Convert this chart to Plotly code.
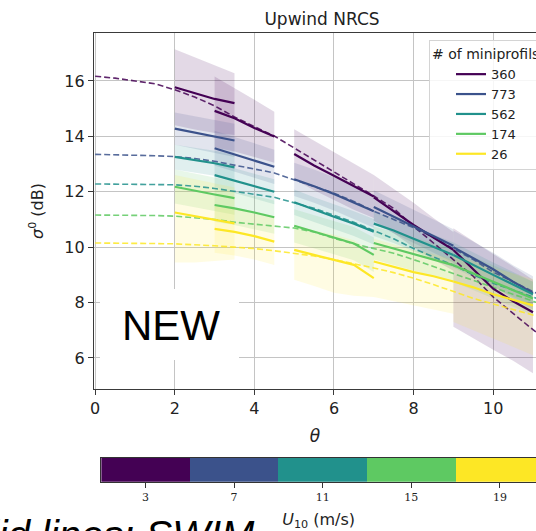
import plotly.graph_objects as go

# ---------------- data ----------------
wind_speeds = [3, 7, 11, 15, 19]
n_miniprofils = [360, 773, 562, 174, 26]
colors = ["#440154", "#3b528b", "#21918c", "#5ec962", "#fde725"]

# model (dashed) curves
theta_model = [0, 0.5, 1, 1.5, 2, 2.5, 3, 3.5, 4, 4.5, 5, 5.5, 6, 6.5, 7, 7.5, 8, 8.5, 9, 9.5, 10, 10.5, 11, 11.5]
model_u3 = [16.17, 16.1, 16.0, 15.9, 15.68, 15.42, 15.1, 14.7, 14.35, 14.01, 13.58, 13.15, 12.72, 12.3, 11.85, 11.4, 10.75, 10.15, 9.55, 8.95, 8.2, 7.6, 7.02, 6.45]
model_u7 = [13.35, 13.34, 13.32, 13.3, 13.27, 13.2, 13.1, 12.96, 12.82, 12.68, 12.43, 12.2, 11.95, 11.65, 11.3, 11.0, 10.7, 10.35, 9.95, 9.55, 9.1, 8.75, 8.4, 8.05]
model_u11 = [12.28, 12.28, 12.27, 12.26, 12.25, 12.2, 12.12, 12.02, 11.92, 11.8, 11.6, 11.4, 11.15, 10.9, 10.6, 10.3, 9.95, 9.65, 9.35, 9.0, 8.7, 8.45, 8.2, 7.95]
model_u15 = [11.16, 11.16, 11.15, 11.14, 11.12, 11.07, 11.0, 10.9, 10.83, 10.75, 10.69, 10.55, 10.32, 10.12, 9.95, 9.78, 9.55, 9.3, 9.05, 8.8, 8.55, 8.3, 8.05, 7.8]
model_u19 = [10.15, 10.15, 10.14, 10.13, 10.12, 10.09, 10.05, 10.0, 9.95, 9.87, 9.78, 9.68, 9.55, 9.41, 9.25, 9.08, 8.88, 8.65, 8.4, 8.15, 7.95, 7.75, 7.55, 7.35]

# observed (solid) curves, grouped in incidence-angle bins
obs_theta = [2.0, 2.5, 3.0, 3.5, 3.0, 3.5, 4.0, 4.5, 5.0, 5.5, 6.0, 6.5, 7.0,
             7.0, 7.5, 8.0, 8.5, 9.0, 9.0, 9.5, 10.0, 10.5, 11.0]
obs_bin = [0, 0, 0, 0, 1, 1, 1, 1, 2, 2, 2, 2, 2, 3, 3, 3, 3, 3, 4, 4, 4, 4, 4]

mean_u3 = [15.77, 15.55, 15.35, 15.2, 14.92, 14.65, 14.3, 13.99, 13.36, 12.95, 12.58, 12.2, 11.83,
           11.8, 11.3, 10.8, 10.35, 9.9, 9.9, 9.2, 8.5, 8.05, 7.65]
hi_u3 = [17.14, 16.85, 16.57, 16.28, 16.16, 15.75, 15.32, 14.89, 14.26, 13.85, 13.45, 13.02, 12.6,
         12.6, 12.1, 11.6, 11.05, 10.55, 10.68, 10.2, 9.75, 9.3, 8.82]
lo_u3 = [14.4, 14.25, 14.12, 14.05, 13.6, 13.45, 13.25, 13.05, 12.45, 12.05, 11.7, 11.35, 11.05,
         10.95, 10.5, 10.0, 9.55, 9.15, 7.13, 6.7, 6.3, 5.9, 5.45]

mean_u7 = [14.28, 14.13, 13.98, 13.85, 13.57, 13.35, 13.12, 12.9, 12.45, 12.2, 11.92, 11.62, 11.3,
           11.45, 11.1, 10.75, 10.4, 10.05, 10.0, 9.6, 9.2, 8.75, 8.35]
hi_u7 = [14.86, 14.72, 14.58, 14.45, 14.2, 13.98, 13.75, 13.52, 13.05, 12.8, 12.52, 12.22, 11.9,
         12.05, 11.7, 11.35, 11.0, 10.65, 10.6, 10.2, 9.8, 9.35, 8.95]
lo_u7 = [13.7, 13.55, 13.4, 13.25, 12.95, 12.72, 12.5, 12.28, 11.85, 11.6, 11.32, 11.02, 10.7,
         10.85, 10.5, 10.15, 9.8, 9.45, 9.4, 9.0, 8.6, 8.15, 7.75]

mean_u11 = [13.26, 13.15, 13.03, 12.88, 12.6, 12.4, 12.2, 12.0, 11.62, 11.35, 11.1, 10.85, 10.56,
            10.85, 10.6, 10.3, 10.0, 9.72, 9.72, 9.35, 9.0, 8.65, 8.3]
hi_u11 = [13.7, 13.6, 13.48, 13.33, 13.05, 12.85, 12.65, 12.45, 12.08, 11.8, 11.55, 11.3, 11.02,
          11.3, 11.05, 10.75, 10.45, 10.17, 10.17, 9.8, 9.45, 9.1, 8.75]
lo_u11 = [12.8, 12.7, 12.58, 12.43, 12.15, 11.95, 11.75, 11.55, 11.16, 10.9, 10.65, 10.4, 10.1,
          10.4, 10.15, 9.85, 9.55, 9.27, 9.27, 8.9, 8.55, 8.2, 7.85]

mean_u15 = [12.18, 12.03, 11.9, 11.77, 11.52, 11.4, 11.25, 11.08, 10.77, 10.55, 10.35, 10.13, 9.72,
            10.15, 9.95, 9.75, 9.55, 9.35, 9.35, 9.05, 8.75, 8.45, 8.15]
hi_u15 = [12.8, 12.65, 12.5, 12.37, 12.12, 12.0, 11.85, 11.68, 11.37, 11.15, 10.95, 10.73, 10.35,
          10.75, 10.55, 10.35, 10.15, 9.95, 9.95, 9.65, 9.35, 9.05, 8.75]
lo_u15 = [11.58, 11.43, 11.3, 11.17, 10.92, 10.8, 10.65, 10.48, 10.17, 9.95, 9.75, 9.53, 9.1,
          9.55, 9.35, 9.15, 8.95, 8.75, 8.75, 8.45, 8.15, 7.85, 7.55]

mean_u19 = [11.25, 11.12, 11.0, 10.86, 10.66, 10.55, 10.4, 10.2, 9.9, 9.72, 9.55, 9.36, 8.88,
            9.48, 9.3, 9.1, 8.95, 8.76, 8.76, 8.55, 8.3, 8.1, 7.9]
hi_u19 = [12.6, 12.45, 12.3, 12.15, 11.5, 11.4, 11.25, 11.05, 10.8, 10.6, 10.45, 10.25, 9.8,
          10.3, 10.1, 9.9, 9.75, 9.55, 9.7, 9.5, 9.25, 9.05, 8.85]
lo_u19 = [9.45, 9.45, 9.5, 9.55, 9.8, 9.7, 9.55, 9.36, 8.82, 8.6, 8.35, 8.25, 8.2,
          8.2, 8.05, 7.9, 7.75, 7.6, 7.3, 7.0, 6.7, 6.4, 6.1]

x_ticks = [0, 2, 4, 6, 8, 10]
y_ticks = [6, 8, 10, 12, 14, 16]
cbar_ticks = [3, 7, 11, 15, 19]

models = [model_u3, model_u7, model_u11, model_u15, model_u19]
means = [mean_u3, mean_u7, mean_u11, mean_u15, mean_u19]
his = [hi_u3, hi_u7, hi_u11, hi_u15, hi_u19]
los = [lo_u3, lo_u7, lo_u11, lo_u15, lo_u19]
band_alpha = [0.15, 0.15, 0.14, 0.14, 0.13]

# ---------------- layout helpers ----------------
W, H = 536, 531
FONT = "DejaVu Sans"
TXT = "#222222"
SPINE = "#3a3a3a"


def pxx(px):
    return px / W


def pxy(py):
    return 1 - py / H


def rgba(hexc, a):
    h = hexc.lstrip("#")
    return "rgba(%d,%d,%d,%.3f)" % (int(h[0:2], 16), int(h[2:4], 16), int(h[4:6], 16), a)


fig = go.Figure()
bins = sorted(set(obs_bin))

# bands
for k in range(5):
    for b in bins:
        idx = [i for i, v in enumerate(obs_bin) if v == b]
        xs = [obs_theta[i] for i in idx]
        up = [his[k][i] for i in idx]
        lo = [los[k][i] for i in idx]
        fig.add_trace(go.Scatter(
            x=xs + xs[::-1], y=up + lo[::-1], fill="toself",
            fillcolor=rgba(colors[k], band_alpha[k]), line=dict(width=0),
            mode="lines", showlegend=False, hoverinfo="skip"))

# dashed model curves
for k in range(5):
    fig.add_trace(go.Scatter(
        x=theta_model, y=models[k], mode="lines",
        line=dict(color=rgba(colors[k], 0.85), width=1.6, dash="6px,3px"),
        showlegend=False, hoverinfo="skip"))

# solid observation curves (segments separated by gaps)
for k in range(5):
    xs, ys = [], []
    prev = None
    for i, b in enumerate(obs_bin):
        if prev is not None and b != prev:
            xs.append(None)
            ys.append(None)
        xs.append(obs_theta[i])
        ys.append(means[k][i])
        prev = b
    fig.add_trace(go.Scatter(
        x=xs, y=ys, mode="lines", connectgaps=False,
        line=dict(color=colors[k], width=2.2),
        name=str(n_miniprofils[k]), showlegend=True))

# discrete colour bar drawn as a heatmap on its own axes
cs = []
for k, c in enumerate(colors):
    cs.append([k / 5, c])
    cs.append([(k + 1) / 5, c])
fig.add_trace(go.Heatmap(
    z=[wind_speeds], x=wind_speeds, y=[0], colorscale=cs, zmin=1, zmax=21,
    showscale=False, hoverinfo="skip", xaxis="x2", yaxis="y2"))

fig.update_layout(
    width=W, height=H,
    margin=dict(l=0, r=0, t=0, b=0, autoexpand=False),
    paper_bgcolor="white", plot_bgcolor="white",
    font=dict(family=FONT, color=TXT),
    title=dict(text="Upwind NRCS", xref="container", x=322 / W, xanchor="center",
               y=1 - 19 / H, yanchor="middle", font=dict(family=FONT, size=17, color=TXT)),
    showlegend=True,
    legend=dict(
        title=dict(text="# of miniprofils", font=dict(family=FONT, size=14)),
        font=dict(family=FONT, size=13, color=TXT),
        x=pxx(429), xanchor="left", y=pxy(40), yanchor="top",
        bgcolor="rgba(255,255,255,0.85)", bordercolor="#d4d4d4", borderwidth=1,
        indentation=21, tracegroupgap=0,
    ),
    xaxis=dict(
        domain=[pxx(94), 1], range=[-0.03, 11.076], tickvals=x_ticks,
        showgrid=True, gridcolor="#c4c4c4", gridwidth=1,
        showline=True, linecolor=SPINE, linewidth=1.3, mirror=True, zeroline=False,
        ticks="outside", ticklen=5, tickcolor=SPINE, tickfont=dict(size=16),
        title=dict(text="<i>θ</i>", font=dict(size=17), standoff=12),
        anchor="y",
    ),
    yaxis=dict(
        domain=[pxy(389), pxy(33)], range=[4.88, 17.73], tickvals=y_ticks,
        showgrid=True, gridcolor="#c4c4c4", gridwidth=1,
        showline=True, linecolor=SPINE, linewidth=1.3, mirror=False, zeroline=False,
        ticks="outside", ticklen=5, tickcolor=SPINE, tickfont=dict(size=16),
        title=dict(text="<i>σ</i><sup>0</sup> (dB)", font=dict(size=16), standoff=16),
        anchor="x",
    ),
    xaxis2=dict(
        domain=[pxx(101.2), 1], range=[1, 1 + (W - 101.2) / 22.15], tickvals=cbar_ticks,
        showgrid=False, zeroline=False, showline=True, linecolor="#333333", linewidth=1,
        mirror=True, ticks="outside", ticklen=5, tickcolor="#333333",
        tickfont=dict(family="DejaVu Serif", size=11, color=TXT),
        title=dict(text="<i>U</i><sub>10</sub> (m/s)", font=dict(family=FONT, size=16), standoff=13),
        anchor="y2",
    ),
    yaxis2=dict(
        domain=[pxy(481.7), pxy(458)], range=[-0.5, 0.5], showticklabels=False,
        ticks="", showgrid=False, zeroline=False, showline=True, linecolor="#333333",
        linewidth=1, mirror=False, anchor="x2",
    ),
)

# "NEW" label box
fig.add_shape(type="rect", xref="paper", yref="paper", x0=pxx(100), x1=pxx(239),
              y0=pxy(360), y1=pxy(289), fillcolor="white", line=dict(width=0), layer="above")
fig.add_annotation(text="NEW", xref="paper", yref="paper", x=pxx(171), y=pxy(325),
                   xanchor="center", yanchor="middle", showarrow=False,
                   font=dict(family="Liberation Sans", size=42, color="black"))

# slide caption (cut off at page edge)
fig.add_annotation(text="<i>Solid lines: SWIM</i>", xref="paper", yref="paper",
                   x=pxx(257), y=pxy(535), xanchor="right", yanchor="middle", showarrow=False,
                   font=dict(family="Liberation Sans", size=40, color="black"))

fig.write_html("out.html")
